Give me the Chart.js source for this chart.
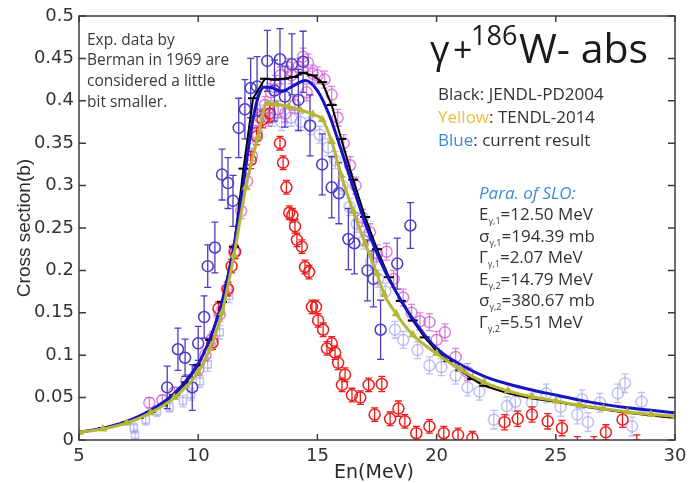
<!DOCTYPE html>
<html><head><meta charset="utf-8">
<script src="https://cdn.jsdelivr.net/npm/chart.js@4.4.1/dist/chart.umd.min.js"></script>
<style>html,body{margin:0;padding:0;background:#fff;}#wrap{width:693px;height:483px;}</style>
</head><body><div id="wrap"><canvas id="c" width="693" height="483"></canvas></div>
<script>
// ---------- tick labels ----------
const xTicks = [5, 10, 15, 20, 25, 30];
const yTicks = [0, 0.05, 0.1, 0.15, 0.2, 0.25, 0.3, 0.35, 0.4, 0.45, 0.5];
const yTickLabels = ['0', '0.05', '0.1', '0.15', '0.2', '0.25', '0.3', '0.35', '0.4', '0.45', '0.5'];

// ---------- evaluated curves ----------
const blueE  = [5, 6, 7, 8, 9, 10, 10.5, 11, 11.5, 11.75, 12, 12.25, 12.5, 12.75, 13, 13.5, 14, 14.5, 15, 15.5, 16, 16.5, 17, 17.5, 18, 19, 20, 21, 22, 23, 24, 25, 26, 27, 28, 29, 30];
const blueXS = [0.009, 0.014, 0.022, 0.035, 0.055, 0.09, 0.12, 0.163, 0.229, 0.274, 0.323, 0.371, 0.403, 0.416, 0.416, 0.411, 0.418, 0.424, 0.412, 0.383, 0.342, 0.298, 0.256, 0.22, 0.19, 0.143, 0.108, 0.089, 0.075, 0.066, 0.059, 0.053, 0.047, 0.042, 0.038, 0.035, 0.032];

const blackE  = [5, 6, 7, 7.5, 8, 8.5, 9, 9.5, 10, 10.5, 11, 11.5, 11.9, 12.3, 12.8, 13.2, 13.6, 14, 14.4, 14.8, 15.2, 15.6, 16, 16.5, 17, 17.5, 18, 18.5, 19, 19.5, 20, 20.5, 21, 21.5, 22, 23, 24, 25, 26, 27, 28, 29, 30];
const blackXS = [0.009, 0.014, 0.021, 0.026, 0.033, 0.041, 0.053, 0.068, 0.088, 0.118, 0.163, 0.228, 0.32, 0.403, 0.426, 0.425, 0.426, 0.428, 0.433, 0.43, 0.422, 0.395, 0.355, 0.307, 0.263, 0.225, 0.192, 0.164, 0.141, 0.121, 0.105, 0.093, 0.082, 0.072, 0.064, 0.055, 0.049, 0.045, 0.04, 0.036, 0.032, 0.029, 0.026];

const yellowE  = [5, 6, 7, 8, 9, 10, 10.5, 11, 11.5, 12, 12.5, 12.9, 13.3, 13.8, 14.3, 14.8, 15.2, 15.6, 16, 16.5, 17, 17.5, 17.8, 18.3, 19, 20, 21, 22, 23, 24, 25, 26, 27, 28, 29, 30];
const yellowXS = [0.009, 0.013, 0.02, 0.032, 0.05, 0.08, 0.108, 0.15, 0.218, 0.298, 0.357, 0.397, 0.396, 0.393, 0.389, 0.384, 0.378, 0.352, 0.312, 0.27, 0.232, 0.196, 0.172, 0.149, 0.124, 0.102, 0.083, 0.068, 0.058, 0.051, 0.046, 0.041, 0.037, 0.033, 0.03, 0.028];

// ---------- experimental data ----------
const bermanE   = [8.7, 9.15, 9.45, 9.75, 10.0, 10.25, 10.4, 10.7, 11.0, 11.25, 11.46, 11.7, 11.96, 12.2, 12.47, 12.9, 13.2, 13.43, 13.64, 13.93, 14.2, 14.4, 14.69, 15.2, 15.6, 15.9, 16.3, 16.55, 17.1, 17.35, 17.65, 18.35, 18.9];
const bermanXS  = [0.062, 0.107, 0.097, 0.062, 0.114, 0.145, 0.205, 0.227, 0.313, 0.303, 0.282, 0.368, 0.39, 0.415, 0.417, 0.447, 0.412, 0.449, 0.405, 0.443, 0.401, 0.446, 0.371, 0.325, 0.298, 0.291, 0.237, 0.232, 0.2, 0.19, 0.13, 0.208, 0.253];
const bermanErr = [0.025, 0.025, 0.022, 0.027, 0.02, 0.025, 0.025, 0.03, 0.03, 0.03, 0.03, 0.035, 0.035, 0.035, 0.035, 0.036, 0.036, 0.036, 0.036, 0.036, 0.036, 0.036, 0.036, 0.036, 0.036, 0.036, 0.036, 0.036, 0.036, 0.033, 0.035, 0.03, 0.027];

const pinkE   = [7.95, 8.5, 9.0, 9.5, 10.0, 10.3, 10.6, 10.9, 11.2, 11.5, 11.8, 12.05, 12.25, 12.45, 12.6, 12.8, 12.95, 13.05, 13.25, 13.35, 13.45, 13.65, 13.75, 13.9, 14.05, 14.2, 14.4, 14.55, 14.6, 14.8, 15.0, 15.3, 15.6, 15.85, 16.1, 16.37, 16.6, 16.9, 17.2, 17.5, 17.9, 18.2, 18.6, 18.95, 19.3, 19.7, 20.0, 20.35, 20.8, 21.3];
const pinkXS  = [0.044, 0.047, 0.056, 0.07, 0.083, 0.1, 0.12, 0.148, 0.178, 0.222, 0.27, 0.305, 0.335, 0.362, 0.38, 0.395, 0.38, 0.41, 0.42, 0.39, 0.43, 0.385, 0.44, 0.43, 0.395, 0.44, 0.452, 0.41, 0.445, 0.432, 0.43, 0.425, 0.407, 0.38, 0.35, 0.324, 0.3, 0.262, 0.245, 0.22, 0.222, 0.19, 0.168, 0.15, 0.14, 0.139, 0.118, 0.127, 0.098, 0.08];
const pinkErr = [0.006, 0.006, 0.006, 0.007, 0.007, 0.007, 0.008, 0.008, 0.008, 0.008, 0.009, 0.009, 0.009, 0.009, 0.01, 0.01, 0.01, 0.01, 0.01, 0.01, 0.01, 0.01, 0.01, 0.01, 0.01, 0.01, 0.01, 0.01, 0.01, 0.01, 0.01, 0.01, 0.01, 0.01, 0.01, 0.01, 0.01, 0.01, 0.01, 0.01, 0.01, 0.01, 0.01, 0.01, 0.01, 0.01, 0.01, 0.01, 0.01, 0.01];

const lavE   = [12.3, 12.7, 13.1, 13.5, 13.9, 14.3, 14.7, 15.1, 15.45, 15.75, 16.05, 16.35, 16.65, 16.95, 17.25, 17.55, 17.85, 18.25, 18.6, 19.2, 19.7, 20.2, 20.8, 21.3, 21.8, 22.4, 22.95, 23.3, 24.0, 24.6, 25.2, 25.9, 26.1, 26.35, 26.85, 27.6, 27.9, 28.2, 28.6];
const lavXS  = [0.36, 0.385, 0.38, 0.375, 0.38, 0.375, 0.37, 0.36, 0.345, 0.33, 0.3, 0.275, 0.255, 0.235, 0.21, 0.19, 0.175, 0.13, 0.118, 0.106, 0.088, 0.086, 0.076, 0.062, 0.057, 0.024, 0.04, 0.045, 0.044, 0.055, 0.039, 0.03, 0.048, 0.021, 0.044, 0.055, 0.067, 0.016, 0.045];
const lavErr = [0.01, 0.01, 0.01, 0.01, 0.01, 0.01, 0.01, 0.01, 0.01, 0.01, 0.01, 0.01, 0.01, 0.01, 0.01, 0.01, 0.01, 0.01, 0.01, 0.01, 0.01, 0.01, 0.01, 0.01, 0.01, 0.011, 0.011, 0.011, 0.011, 0.011, 0.011, 0.011, 0.011, 0.011, 0.011, 0.011, 0.011, 0.011, 0.011];

const lavSqE   = [7.3, 7.35, 7.8, 8.27, 8.8, 9.36, 9.7, 10.07, 10.4, 10.9, 11.3];
const lavSqXS  = [0.014, 0.006, 0.024, 0.034, 0.039, 0.046, 0.054, 0.069, 0.089, 0.127, 0.17];
const lavSqErr = [0.006, 0.006, 0.006, 0.006, 0.006, 0.007, 0.007, 0.007, 0.008, 0.008, 0.008];

const redE   = [10.6, 10.85, 11.25, 11.4, 11.55, 12.2, 12.45, 12.7, 13.0, 13.43, 13.56, 13.7, 13.82, 13.95, 14.06, 14.14, 14.35, 14.48, 14.65, 14.77, 14.94, 15.03, 15.24, 15.4, 15.6, 15.74, 15.87, 16.03, 16.16, 16.45, 16.8, 17.15, 17.4, 17.7, 18.05, 18.4, 18.67, 19.15, 19.7, 20.3, 20.9, 21.5, 22.85, 23.4, 24.0, 24.66, 25.26, 25.9, 26.6, 27.1, 27.8, 28.4];
const redXS  = [0.115, 0.155, 0.178, 0.205, 0.222, 0.33, 0.358, 0.378, 0.385, 0.35, 0.327, 0.298, 0.268, 0.265, 0.252, 0.236, 0.228, 0.204, 0.198, 0.157, 0.157, 0.141, 0.13, 0.108, 0.114, 0.103, 0.091, 0.065, 0.077, 0.053, 0.05, 0.065, 0.03, 0.066, 0.025, 0.037, 0.022, 0.008, 0.016, 0.008, 0.006, 0.002, 0.021, 0.025, 0.03, 0.022, 0.014, -0.008, -0.008, 0.009, 0.024, -0.006];
const redErr = [0.008, 0.008, 0.008, 0.008, 0.008, 0.01, 0.01, 0.01, 0.01, 0.008, 0.008, 0.008, 0.008, 0.008, 0.008, 0.008, 0.008, 0.008, 0.008, 0.008, 0.008, 0.008, 0.008, 0.008, 0.008, 0.008, 0.008, 0.008, 0.008, 0.008, 0.008, 0.008, 0.008, 0.009, 0.008, 0.009, 0.008, 0.008, 0.008, 0.008, 0.008, 0.008, 0.009, 0.009, 0.009, 0.009, 0.009, 0.012, 0.012, 0.009, 0.009, 0.012];

const pts = (xs, ys) => xs.map((x, i) => ({x: x, y: ys[i]}));

const errorBars = {
  id: 'errorBars',
  beforeDatasetDraw(chart, args) {
    const ds = chart.data.datasets[args.index];
    if (!ds.errors) return;
    const {ctx, chartArea} = chart;
    const ys = chart.scales.y;
    ctx.save();
    ctx.beginPath();
    ctx.rect(chartArea.left, chartArea.top, chartArea.right - chartArea.left, chartArea.bottom - chartArea.top);
    ctx.clip();
    ctx.strokeStyle = ds.borderColor;
    ctx.lineWidth = 1.3;
    args.meta.data.forEach((p, i) => {
      const d = ds.data[i], e = ds.errors[i];
      const y1 = ys.getPixelForValue(d.y - e), y2 = ys.getPixelForValue(d.y + e);
      ctx.beginPath();
      ctx.moveTo(p.x, y1); ctx.lineTo(p.x, y2);
      ctx.moveTo(p.x - 3.5, y1); ctx.lineTo(p.x + 3.5, y1);
      ctx.moveTo(p.x - 3.5, y2); ctx.lineTo(p.x + 3.5, y2);
      ctx.stroke();
    });
    ctx.restore();
  }
};

function txt(ctx, s, x, y, font, color) {
  ctx.font = font; ctx.fillStyle = color; ctx.fillText(s, x, y);
  return x + ctx.measureText(s).width;
}

const decor = {
  id: 'decor',
  afterDraw(chart) {
    const {ctx, chartArea: a} = chart;
    const xs = chart.scales.x, ys = chart.scales.y;
    ctx.save();
    // frame
    ctx.strokeStyle = '#3c3c3c'; ctx.lineWidth = 1.5;
    ctx.strokeRect(a.left, a.top, a.right - a.left, a.bottom - a.top);
    ctx.beginPath();
    xTicks.forEach(v => {
      const px = xs.getPixelForValue(v);
      ctx.moveTo(px, a.bottom); ctx.lineTo(px, a.bottom - 6);
      ctx.moveTo(px, a.top); ctx.lineTo(px, a.top + 6);
    });
    yTicks.forEach(v => {
      const py = ys.getPixelForValue(v);
      ctx.moveTo(a.left, py); ctx.lineTo(a.left + 7, py);
      ctx.moveTo(a.right, py); ctx.lineTo(a.right - 7, py);
    });
    ctx.stroke();
    ctx.textBaseline = 'alphabetic'; ctx.textAlign = 'left';
    // axis titles
    ctx.save();
    ctx.translate(30, 228); ctx.rotate(-Math.PI / 2);
    ctx.textAlign = 'center';
    txt(ctx, 'Cross section(b)', 0, 0, '19px "Liberation Sans"', '#2a2a2a');
    ctx.restore();
    ctx.textAlign = 'center';
    txt(ctx, 'En(MeV)', 374, 478, '19px "DejaVu Sans"', '#2a2a2a');
    ctx.textAlign = 'left';
    // left note
    const nf = '15.5px "Open Sans"', nc = '#3a3a3a';
    txt(ctx, 'Exp. data by', 87, 45, nf, nc);
    txt(ctx, 'Berman in 1969 are', 87, 65, nf, nc);
    txt(ctx, 'considered a little', 87, 86, nf, nc);
    txt(ctx, 'bit smaller.', 87, 107, nf, nc);
    // title
    txt(ctx, 'γ', 430, 63, '38px "Open Sans"', '#1a1a1a');
    txt(ctx, '+', 453, 62, '34px "Open Sans"', '#1a1a1a');
    txt(ctx, '186', 471, 45, '27px "Open Sans"', '#1a1a1a');
    txt(ctx, 'W- abs', 519, 63, '41px "Open Sans"', '#1a1a1a');
    // legend
    const lf = '17px "Open Sans"', lc = '#333';
    txt(ctx, 'Black: JENDL-PD2004', 438, 100, lf, lc);
    let x = txt(ctx, 'Yellow', 438, 123, lf, '#f2bf3a');
    txt(ctx, ': TENDL-2014', x, 123, lf, lc);
    x = txt(ctx, 'Blue', 438, 146, lf, '#3d8bd6');
    txt(ctx, ': current result', x, 146, lf, lc);
    // SLO params
    txt(ctx, 'Para. of SLO:', 479, 199, 'italic 17px "Open Sans"', '#3d8bd6');
    const rows = [['E', '1', '=12.50 MeV'], ['σ', '1', '=194.39 mb'], ['Γ', '1', '=2.07 MeV'],
                  ['E', '2', '=14.79 MeV'], ['σ', '2', '=380.67 mb'], ['Γ', '2', '=5.51 MeV']];
    rows.forEach((r, i) => {
      const by = 220 + i * 21.5;
      let xx = txt(ctx, r[0], 479, by, lf, lc);
      xx = txt(ctx, 'γ,' + r[1], xx, by + 4, '9px "Open Sans"', lc);
      txt(ctx, r[2], xx, by, lf, lc);
    });
    ctx.restore();
  }
};

const circle = (color, data, errs, order) => ({
  type: 'scatter', data: data, errors: errs, order: order,
  borderColor: color, backgroundColor: 'rgba(0,0,0,0)',
  pointStyle: 'circle', pointRadius: 5.5, pointBorderWidth: 1.5, clip: 0, showLine: false
});

new Chart(document.getElementById('c'), {
  type: 'scatter',
  data: {
    datasets: [
      circle('rgba(150,150,235,0.6)', pts(lavE, lavXS), lavErr, 9),
      Object.assign(circle('rgba(150,150,235,0.6)', pts(lavSqE, lavSqXS), lavSqErr, 8), {pointStyle: 'rect', pointRadius: 5}),
      circle('rgba(208,90,208,0.75)', pts(pinkE, pinkXS), pinkErr, 7),
      circle('#ee1c1c', pts(redE, redXS), redErr, 6),
      circle('#4b3cc4', pts(bermanE, bermanXS), bermanErr, 5),
      { type: 'line', data: pts(blackE, blackXS), order: 4, borderColor: '#000', borderWidth: 2,
        pointStyle: 'line', pointRadius: blackE.map(e => e <= 22 ? 5 : 0), pointBorderWidth: 2, pointBorderColor: '#000', tension: 0, fill: false, clip: 0 },
      { type: 'line', data: pts(blueE, blueXS), order: 3, borderColor: '#1515c8', borderWidth: 3,
        pointRadius: 0, cubicInterpolationMode: 'monotone', fill: false, clip: 0 },
      { type: 'line', data: pts(yellowE, yellowXS), order: 2, borderColor: '#b5b536', borderWidth: 3,
        pointStyle: 'triangle', pointRadius: 2, pointBackgroundColor: '#b5b536', pointBorderColor: '#b5b536',
        cubicInterpolationMode: 'monotone', fill: false, clip: 0 }
    ]
  },
  options: {
    responsive: false, animation: false, devicePixelRatio: 1,
    layout: { padding: { left: 0, top: 16, right: 18, bottom: 0 } },
    plugins: { legend: { display: false }, tooltip: { enabled: false } },
    scales: {
      x: { type: 'linear', min: 5, max: 30,
        afterBuildTicks: s => { s.ticks = xTicks.map(v => ({value: v})); },
        afterFit: s => { s.height = 43; },
        grid: { display: false, drawTicks: false }, border: { display: false },
        ticks: { padding: 6, font: { family: 'DejaVu Sans', size: 18 }, color: '#333', maxRotation: 0,
          callback: v => String(v) } },
      y: { type: 'linear', min: 0, max: 0.5,
        afterBuildTicks: s => { s.ticks = yTicks.map(v => ({value: v})); },
        afterFit: s => { s.width = 79; },
        grid: { display: false, drawTicks: false }, border: { display: false },
        ticks: { padding: 5, font: { family: 'DejaVu Sans', size: 18 }, color: '#333',
          callback: v => yTickLabels[yTicks.findIndex(t => Math.abs(t - v) < 1e-9)] } }
    }
  },
  plugins: [errorBars, decor]
});
</script></body></html>
